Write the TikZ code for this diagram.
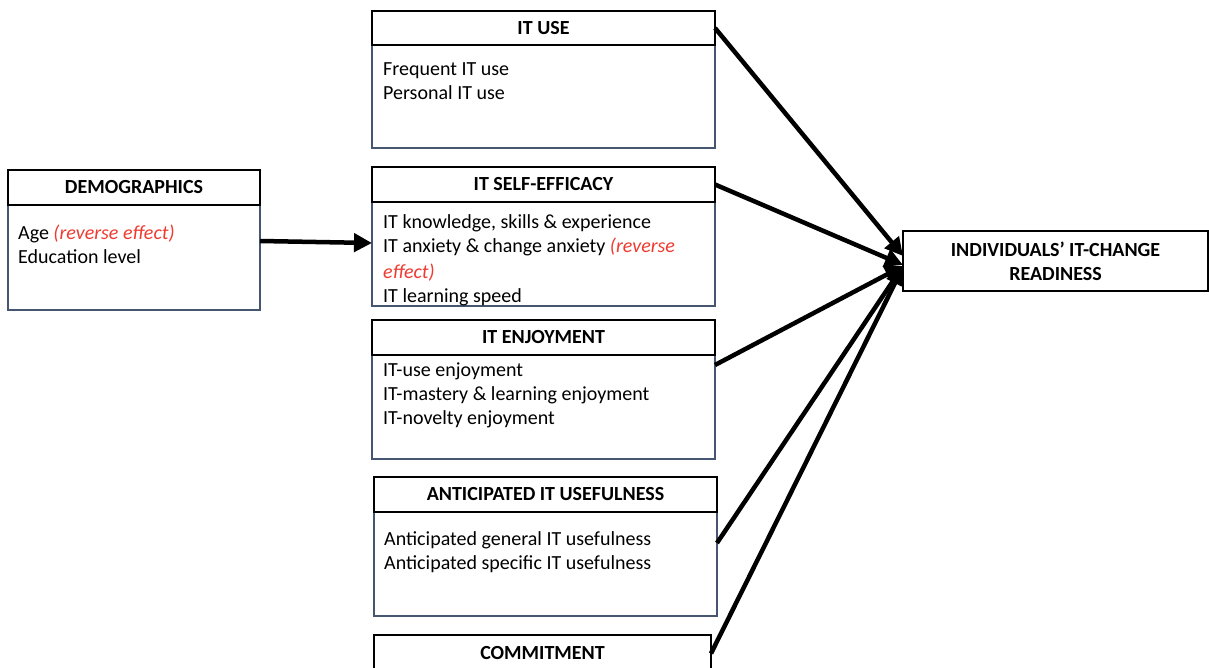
\documentclass[tikz,border=0pt]{standalone}
\usepackage{fontspec}
\setmainfont{Carlito}
\usetikzlibrary{arrows.meta}
\definecolor{revred}{RGB}{238,58,48}
\definecolor{bodyline}{RGB}{70,86,112}
\begin{document}
\begin{tikzpicture}[x=1pt,y=-1pt,
  hdr/.style={draw=black, line width=1.6pt, inner sep=0pt, outer sep=0pt, anchor=north west,
    font=\fontsize{20}{24}\selectfont\bfseries},
  bdy/.style={draw=bodyline, line width=1.4pt, inner sep=0pt, outer sep=0pt, anchor=north west},
  txt/.style={anchor=base west, inner sep=0pt, font=\fontsize{20}{24}\selectfont},
  arr/.style={line width=4.5pt, -{Triangle[length=18pt,width=18pt]}}]
\useasboundingbox (0,0) rectangle (1209,668);

% DEMOGRAPHICS
\node[bdy, minimum width=252pt, minimum height=105pt] (demoB) at (8,205) {};
\node[hdr, minimum width=252pt, minimum height=35pt] (demoH) at (8,170) {DEMOGRAPHICS};
\node[txt] (demo1) at (18,240) {Age \textcolor{revred}{\itshape (reverse effect)}};
\node[txt] (demo2) at (18,264) {Education level};

% IT USE
\node[bdy, minimum width=343pt, minimum height=103pt] (useB) at (372,45) {};
\node[hdr, minimum width=343pt, minimum height=34pt] (useH) at (372,11) {IT USE};
\node[txt] (use1) at (383,76) {Frequent IT use};
\node[txt] (use2) at (383,100) {Personal IT use};

% IT SELF-EFFICACY
\node[bdy, minimum width=343pt, minimum height=104pt] (seB) at (372,202) {};
\node[hdr, minimum width=343pt, minimum height=35pt] (seH) at (372,167) {IT SELF-EFFICACY};
\node[txt] (se1) at (383,229) {IT knowledge, skills \& experience};
\node[txt] (se2) at (383,253) {IT anxiety \& change anxiety \textcolor{revred}{\itshape (reverse}};
\node[txt] (se3) at (383,278) {\textcolor{revred}{\itshape effect)}};
\node[txt] (se4) at (383,302) {IT learning speed};

% IT ENJOYMENT
\node[bdy, minimum width=343pt, minimum height=104pt] (enjB) at (372,355) {};
\node[hdr, minimum width=343pt, minimum height=35pt] (enjH) at (372,320) {IT ENJOYMENT};
\node[txt] (enj1) at (383,376) {IT-use enjoyment};
\node[txt] (enj2) at (383,400) {IT-mastery \& learning enjoyment};
\node[txt] (enj3) at (383,424) {IT-novelty enjoyment};

% ANTICIPATED IT USEFULNESS
\node[bdy, minimum width=343pt, minimum height=104pt] (antB) at (374,512) {};
\node[hdr, minimum width=343pt, minimum height=35pt] (antH) at (374,477) {ANTICIPATED IT USEFULNESS};
\node[txt] (ant1) at (384,545) {Anticipated general IT usefulness};
\node[txt] (ant2) at (384,569) {Anticipated specific IT usefulness};

% COMMITMENT
\node[bdy, minimum width=337pt, minimum height=60pt] (comB) at (374,672) {};
\node[hdr, minimum width=337pt, minimum height=37pt] (comH) at (374,635) {COMMITMENT};

% OUTCOME
\node[hdr, minimum width=305pt, minimum height=60pt, align=center,
  font=\fontsize{20}{24}\selectfont\bfseries] (ind) at (903,231)
  {INDIVIDUALS’ IT-CHANGE\\READINESS};

% connectors
\draw[arr] ([yshift=-36pt]demoB.north east) -- ([yshift=-41pt]seB.north west);
\draw[arr] (useH.east) -- ([yshift=5pt]ind.west);
\draw[arr] (seH.east) -- ([yshift=-4pt]ind.west);
\draw[arr] ([yshift=-10pt]enjB.north east) -- ([yshift=-5pt]ind.west);
\draw[arr] ([yshift=-31pt]antB.north east) -- ([yshift=-5pt]ind.west);
\draw[arr] (comH.east) -- ([yshift=-6pt]ind.west);
\end{tikzpicture}
\end{document}
